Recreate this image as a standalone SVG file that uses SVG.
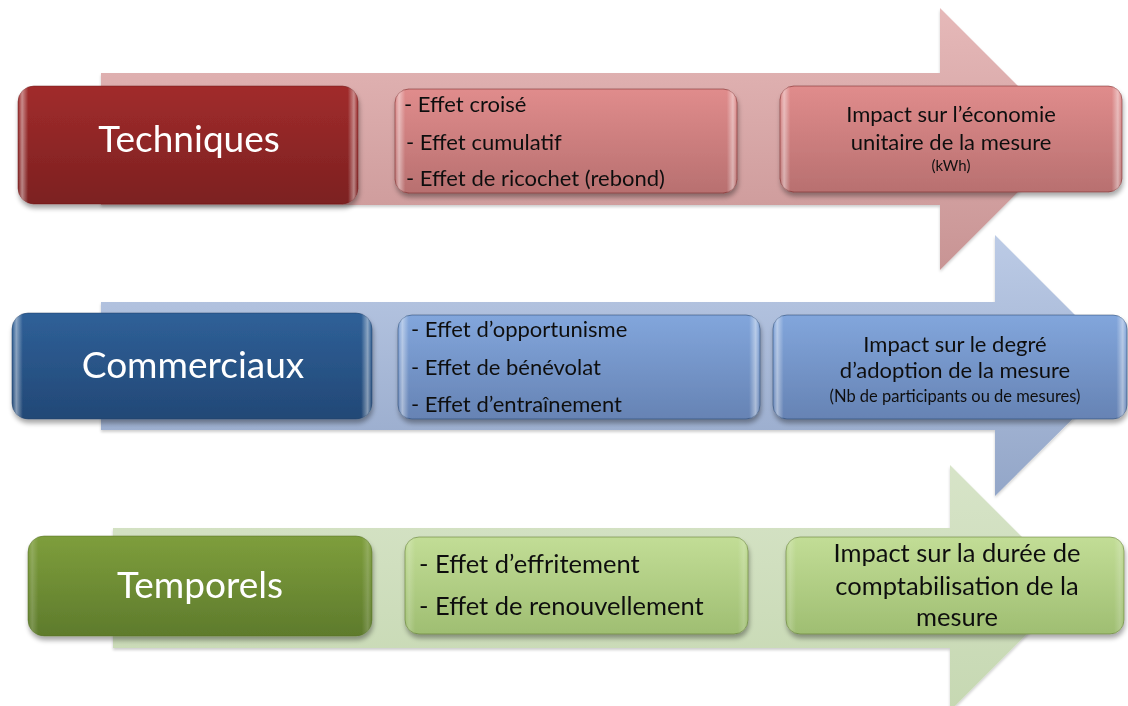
<svg xmlns="http://www.w3.org/2000/svg" width="1128" height="706" viewBox="0 0 1128 706">
  <defs>
    <filter id="shadow" x="-10%" y="-20%" width="120%" height="150%">
      <feGaussianBlur in="SourceAlpha" stdDeviation="2.5"/>
      <feOffset dx="1" dy="4"/>
      <feComponentTransfer><feFuncA type="linear" slope="0.35"/></feComponentTransfer>
      <feMerge><feMergeNode/><feMergeNode in="SourceGraphic"/></feMerge>
    </filter>
    <filter id="soft" x="-5%" y="-5%" width="110%" height="115%">
      <feGaussianBlur in="SourceAlpha" stdDeviation="1.5"/>
      <feOffset dx="0" dy="2"/>
      <feComponentTransfer><feFuncA type="linear" slope="0.2"/></feComponentTransfer>
      <feMerge><feMergeNode/><feMergeNode in="SourceGraphic"/></feMerge>
    </filter>
    <!-- arrow fills -->
    <linearGradient id="arRed" x1="0" y1="0" x2="0" y2="1">
      <stop offset="0" stop-color="#e6b9b9"/>
      <stop offset="1" stop-color="#c89494"/>
    </linearGradient>
    <linearGradient id="arBlue" x1="0" y1="0" x2="0" y2="1">
      <stop offset="0" stop-color="#bccbe6"/>
      <stop offset="1" stop-color="#93a6c8"/>
    </linearGradient>
    <linearGradient id="arGreen" x1="0" y1="0" x2="0" y2="1">
      <stop offset="0" stop-color="#d7e4c8"/>
      <stop offset="1" stop-color="#c6d8b2"/>
    </linearGradient>
    <!-- box fills -->
    <linearGradient id="dRed" x1="0" y1="0" x2="0" y2="1">
      <stop offset="0" stop-color="#a12c2c"/>
      <stop offset="1" stop-color="#7c2020"/>
    </linearGradient>
    <linearGradient id="lRed" x1="0" y1="0" x2="0" y2="1">
      <stop offset="0" stop-color="#e08c8c"/>
      <stop offset="1" stop-color="#b87070"/>
    </linearGradient>
    <linearGradient id="dBlue" x1="0" y1="0" x2="0" y2="1">
      <stop offset="0" stop-color="#2f6098"/>
      <stop offset="1" stop-color="#224876"/>
    </linearGradient>
    <linearGradient id="lBlue" x1="0" y1="0" x2="0" y2="1">
      <stop offset="0" stop-color="#82a6dc"/>
      <stop offset="1" stop-color="#6683b4"/>
    </linearGradient>
    <linearGradient id="dGreen" x1="0" y1="0" x2="0" y2="1">
      <stop offset="0" stop-color="#7e9e3c"/>
      <stop offset="1" stop-color="#5e7b2c"/>
    </linearGradient>
    <linearGradient id="lGreen" x1="0" y1="0" x2="0" y2="1">
      <stop offset="0" stop-color="#c2dd96"/>
      <stop offset="1" stop-color="#9fbe72"/>
    </linearGradient>
    <!-- glossy edge sheen -->
    <linearGradient id="sheen" x1="0" y1="0" x2="1" y2="0">
      <stop offset="0" stop-color="#ffffff" stop-opacity="0"/>
      <stop offset="0.012" stop-color="#ffffff" stop-opacity="0.45"/>
      <stop offset="0.03" stop-color="#ffffff" stop-opacity="0"/>
      <stop offset="0.97" stop-color="#ffffff" stop-opacity="0"/>
      <stop offset="0.988" stop-color="#ffffff" stop-opacity="0.45"/>
      <stop offset="1" stop-color="#ffffff" stop-opacity="0"/>
    </linearGradient>
    <style>
      .lbl { font-family: Lato, "Liberation Sans", sans-serif; font-size: 37px; fill: #ffffff; text-anchor: middle; }
      .txt { font-family: Lato, "Liberation Sans", sans-serif; font-size: 22px; fill: #111111; }
      .ctr { font-family: Lato, "Liberation Sans", sans-serif; font-size: 22px; fill: #111111; text-anchor: middle; }
      .big { font-size: 25.5px; }
      .sm { font-size: 16.5px; }
      .xs { font-size: 15px; }
      .gloss { fill: url(#sheen); }
      .edgeR { stroke: #6e1c1c; stroke-opacity: 0.5; stroke-width: 1; }
      .edgeB { stroke: #1d3e66; stroke-opacity: 0.5; stroke-width: 1; }
      .edgeG { stroke: #536d26; stroke-opacity: 0.5; stroke-width: 1; }
    </style>
  </defs>

  <rect width="1128" height="706" fill="#ffffff"/>

  <!-- background arrows -->
  <g id="connectors">
    <polygon id="arrow-tech" fill="url(#arRed)" filter="url(#soft)"
      points="101,73 940,73 940,8 1071,139 940,270 940,205 101,205"/>
    <polygon id="arrow-comm" fill="url(#arBlue)" filter="url(#soft)"
      points="101,302 995,302 995,235 1126,366 995,496 995,430 101,430"/>
    <polygon id="arrow-temp" fill="url(#arGreen)" filter="url(#soft)"
      points="113,528 950,528 950,465 1073,588 950,711 950,648 113,648"/>
  </g>

  <!-- Techniques row -->
  <g id="node-techniques" filter="url(#shadow)">
    <rect x="18" y="86" width="340" height="118" rx="16" fill="url(#dRed)" class="edgeR"/>
    <rect x="18" y="86" width="340" height="118" rx="16" class="gloss"/>
    <text x="189" y="152" class="lbl">Techniques</text>
  </g>
  <g id="node-effets-tech" filter="url(#shadow)">
    <rect x="395" y="89" width="342" height="104" rx="14" fill="url(#lRed)" class="edgeR"/>
    <rect x="395" y="89" width="342" height="104" rx="14" class="gloss"/>
    <text x="404" y="112" class="txt">- Effet croisé</text>
    <text x="406" y="150" class="txt">- Effet cumulatif</text>
    <text x="406" y="186" class="txt">- Effet de ricochet (rebond)</text>
  </g>
  <g id="node-impact-tech" filter="url(#shadow)">
    <rect x="780" y="86" width="342" height="106" rx="14" fill="url(#lRed)" class="edgeR"/>
    <rect x="780" y="86" width="342" height="106" rx="14" class="gloss"/>
    <text x="951" y="122" class="ctr">Impact sur l’économie</text>
    <text x="951" y="150" class="ctr">unitaire de la mesure</text>
    <text x="951" y="171" class="ctr xs">(kWh)</text>
  </g>

  <!-- Commerciaux row -->
  <g id="node-commerciaux" filter="url(#shadow)">
    <rect x="12" y="313" width="360" height="106" rx="16" fill="url(#dBlue)" class="edgeB"/>
    <rect x="12" y="313" width="360" height="106" rx="16" class="gloss"/>
    <text x="193" y="378" class="lbl">Commerciaux</text>
  </g>
  <g id="node-effets-comm" filter="url(#shadow)">
    <rect x="398" y="315" width="362" height="104" rx="14" fill="url(#lBlue)" class="edgeB"/>
    <rect x="398" y="315" width="362" height="104" rx="14" class="gloss"/>
    <text x="411" y="337" class="txt">- Effet d’opportunisme</text>
    <text x="411" y="375" class="txt">- Effet de bénévolat</text>
    <text x="411" y="412" class="txt">- Effet d’entraînement</text>
  </g>
  <g id="node-impact-comm" filter="url(#shadow)">
    <rect x="773" y="315" width="354" height="104" rx="14" fill="url(#lBlue)" class="edgeB"/>
    <rect x="773" y="315" width="354" height="104" rx="14" class="gloss"/>
    <text x="955" y="352" class="ctr">Impact sur le degré</text>
    <text x="955" y="378" class="ctr">d’adoption de la mesure</text>
    <text x="955" y="402" class="ctr sm">(Nb de participants  ou de mesures)</text>
  </g>

  <!-- Temporels row -->
  <g id="node-temporels" filter="url(#shadow)">
    <rect x="28" y="536" width="344" height="100" rx="16" fill="url(#dGreen)" class="edgeG"/>
    <rect x="28" y="536" width="344" height="100" rx="16" class="gloss" opacity="0.4"/>
    <text x="200" y="598" class="lbl">Temporels</text>
  </g>
  <g id="node-effets-temp" filter="url(#shadow)">
    <rect x="405" y="537" width="343" height="97" rx="14" fill="url(#lGreen)" class="edgeG"/>
    <rect x="405" y="537" width="343" height="97" rx="14" class="gloss" opacity="0.4"/>
    <text x="419" y="573" class="txt big">- Effet d’effritement</text>
    <text x="419" y="615" class="txt big">- Effet de renouvellement</text>
  </g>
  <g id="node-impact-temp" filter="url(#shadow)">
    <rect x="786" y="537" width="338" height="97" rx="14" fill="url(#lGreen)" class="edgeG"/>
    <rect x="786" y="537" width="338" height="97" rx="14" class="gloss" opacity="0.4"/>
    <text x="957" y="562" class="ctr big">Impact sur la durée de</text>
    <text x="957" y="595" class="ctr big">comptabilisation de la</text>
    <text x="957" y="626" class="ctr big">mesure</text>
  </g>
</svg>
